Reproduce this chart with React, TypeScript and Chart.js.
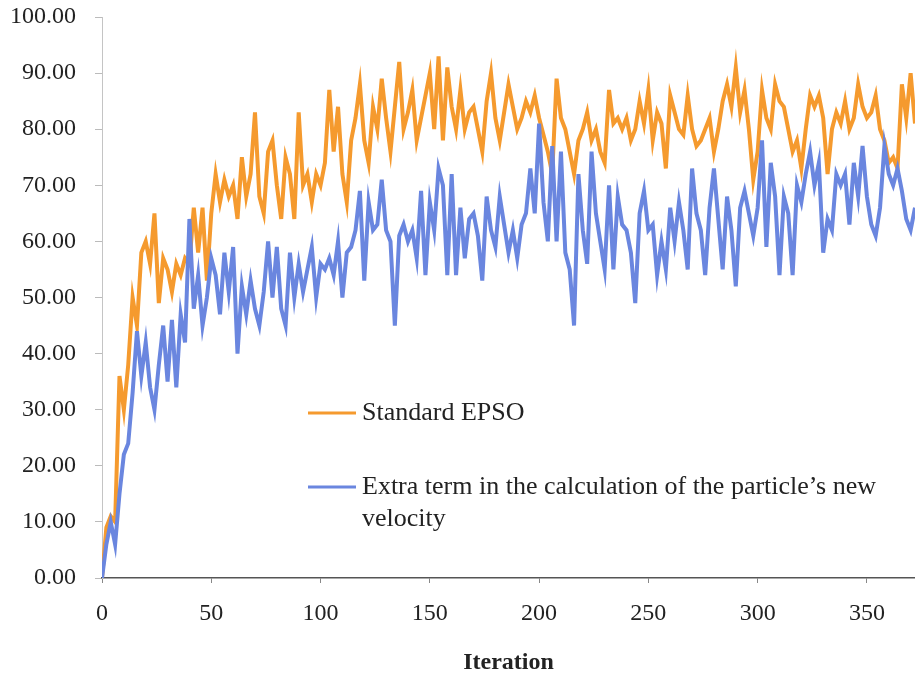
import { useEffect, useRef } from "react";
import { Chart, registerables } from "chart.js";

Chart.register(...registerables);

// Iteration spacing between stored samples
const ITER_STEP = 2;

// Standard EPSO (orange), sampled every 2 iterations, 0..372
const standardEpso: number[] = [
  0, 9, 11, 10, 36, 30, 38, 50, 45, 58,
  60, 56, 65, 49, 57, 55, 51, 56, 54, 57,
  56, 66, 58, 66, 53, 65, 72, 67, 71, 68,
  70, 64, 75, 68, 72, 83, 68, 65, 76, 78,
  70, 64, 75, 72, 64, 83, 70, 72, 67, 72,
  70, 74, 87, 76, 84, 72, 67, 78, 82, 88,
  78, 74, 84, 80, 89, 82, 76, 84, 92, 80,
  83, 87, 78, 82, 86, 90, 80, 93, 78, 91,
  84, 80, 87, 80, 83, 84, 80, 76, 85, 90,
  82, 78, 83, 88, 84, 80, 82, 85, 83, 86,
  82, 79, 76, 72, 89, 82, 80, 76, 72, 78,
  80, 83, 78, 80, 76, 74, 87, 81, 82, 80,
  82, 78, 80, 85, 81, 87, 78, 83, 81, 73,
  86, 83, 80, 79, 86, 80, 77, 78, 80, 82,
  76, 80, 85, 88, 84, 91, 83, 87, 80, 71,
  76, 87, 82, 80, 88, 85, 84, 80, 76, 78,
  73, 80, 86, 84, 86, 82, 72, 80, 83, 81,
  85, 80, 82, 88, 84, 82, 83, 86, 80, 78,
  74, 75, 73, 88, 82, 90, 81,
];

// Extra term in the calculation of the particle's new velocity (blue)
const extraTerm: number[] = [
  0, 6, 10, 6, 15, 22, 24, 33, 44, 36,
  42, 34, 30, 38, 45, 35, 46, 34, 47, 42,
  64, 48, 54, 45, 50, 57, 54, 47, 58, 51,
  59, 40, 52, 47, 53, 48, 45, 51, 60, 50,
  59, 48, 45, 58, 50, 56, 51, 55, 59, 50,
  56, 55, 57, 54, 60, 50, 58, 59, 62, 69,
  53, 67, 62, 63, 71, 62, 60, 45, 61, 63,
  60, 62, 57, 69, 54, 67, 62, 73, 70, 54,
  72, 54, 66, 57, 64, 65, 61, 53, 68, 62,
  59, 68, 63, 58, 62, 57, 63, 65, 73, 65,
  81, 67, 60, 77, 60, 76, 58, 55, 45, 72,
  62, 56, 76, 65, 60, 55, 70, 55, 68, 63,
  62, 58, 49, 65, 69, 62, 63, 54, 60, 55,
  66, 60, 67, 62, 55, 73, 65, 62, 54, 66,
  73, 64, 55, 68, 62, 52, 66, 69, 65, 61,
  66, 78, 59, 74, 68, 54, 68, 65, 54, 70,
  67, 72, 76, 70, 74, 58, 64, 62, 72, 70,
  72, 63, 74, 68, 77, 68, 63, 61, 66, 77,
  72, 70, 73, 69, 64, 62, 66,
];

const iterations: number[] = standardEpso.map((_, i) => i * ITER_STEP);

const seriesNames = [
  "Standard EPSO",
  ["Extra term in the calculation of the particle\u2019s new", "velocity"],
];

const yTickValues = [0, 10, 20, 30, 40, 50, 60, 70, 80, 90, 100];
const xTickStep = 50;

const ORANGE = "#F59A2E";
const BLUE = "#6A86DF";
const FONT = "'Liberation Serif', 'Times New Roman', serif";

const insideLegend = {
  id: "insideLegend",
  afterDatasetsDraw(chart: any) {
    const ctx = chart.ctx as CanvasRenderingContext2D;
    const a = chart.chartArea;
    const lx0 = a.left + 206;
    const lx1 = a.left + 254;
    const tx = a.left + 260;
    const rows = [
      { color: ORANGE, y: a.top + 396, lines: [seriesNames[0] as string] },
      { color: BLUE, y: a.top + 470, lines: seriesNames[1] as string[] },
    ];
    ctx.save();
    ctx.font = `26px ${FONT}`;
    ctx.textBaseline = "middle";
    ctx.textAlign = "left";
    rows.forEach((r) => {
      ctx.strokeStyle = r.color;
      ctx.lineWidth = 3;
      ctx.beginPath();
      ctx.moveTo(lx0, r.y);
      ctx.lineTo(lx1, r.y);
      ctx.stroke();
      ctx.fillStyle = "#222";
      r.lines.forEach((t, i) => ctx.fillText(t, tx, r.y + i * 32));
    });
    ctx.restore();
  },
};

export default function App() {
  const ref = useRef<HTMLCanvasElement | null>(null);

  useEffect(() => {
    if (!ref.current) return;
    const chart = new Chart(ref.current, {
      type: "line",
      data: {
        datasets: [
          {
            label: seriesNames[0] as string,
            data: iterations.map((x, i) => ({ x, y: standardEpso[i] })),
            borderColor: ORANGE,
            backgroundColor: ORANGE,
            borderWidth: 4,
            pointRadius: 0,
            tension: 0,
            order: 1,
          },
          {
            label: (seriesNames[1] as string[]).join(" "),
            data: iterations.map((x, i) => ({ x, y: extraTerm[i] })),
            borderColor: BLUE,
            backgroundColor: BLUE,
            borderWidth: 4,
            pointRadius: 0,
            tension: 0,
            order: 0,
          },
        ],
      },
      options: {
        animation: false,
        responsive: true,
        maintainAspectRatio: false,
        devicePixelRatio: 1,
        layout: { padding: { top: 17, right: 0, left: 0, bottom: 0 } },
        plugins: {
          legend: { display: false },
          tooltip: { enabled: false },
        },
        scales: {
          x: {
            type: "linear",
            min: 0,
            max: iterations[iterations.length - 1],
            afterFit: (s: any) => {
              s.height = 99;
            },
            grid: {
              display: true,
              drawOnChartArea: false,
              drawTicks: true,
              tickLength: 5,
              color: "#888",
            },
            border: { display: true, color: "#555", width: 1.5 },
            ticks: {
              stepSize: xTickStep,
              includeBounds: false,
              padding: 16,
              color: "#222",
              font: { family: FONT, size: 24 },
              maxRotation: 0,
              callback: (v: any) => String(v),
            },
            title: {
              display: true,
              text: "Iteration",
              color: "#222",
              font: { family: FONT, size: 24, weight: "bold" },
              padding: { top: 0, bottom: 0 },
            },
          },
          y: {
            type: "linear",
            min: yTickValues[0],
            max: yTickValues[yTickValues.length - 1],
            afterFit: (s: any) => {
              s.width = 102;
              s.paddingTop = 0;
              s.paddingBottom = 0;
            },
            afterBuildTicks: (s: any) => {
              s.ticks = yTickValues.map((value) => ({ value }));
            },
            grid: {
              display: true,
              drawOnChartArea: false,
              drawTicks: true,
              tickLength: 7,
              color: "#bbb",
            },
            border: { display: true, color: "#c4c4c4", width: 1 },
            ticks: {
              padding: 19,
              color: "#222",
              font: { family: FONT, size: 24 },
              callback: (v: any) => Number(v).toFixed(2),
            },
          },
        },
      },
      plugins: [insideLegend],
    });
    return () => chart.destroy();
  }, []);

  return (
    <div
      style={{
        position: "absolute",
        left: 0,
        top: 0,
        width: 915,
        height: 677,
        background: "#fff",
      }}
    >
      <canvas ref={ref} />
    </div>
  );
}
